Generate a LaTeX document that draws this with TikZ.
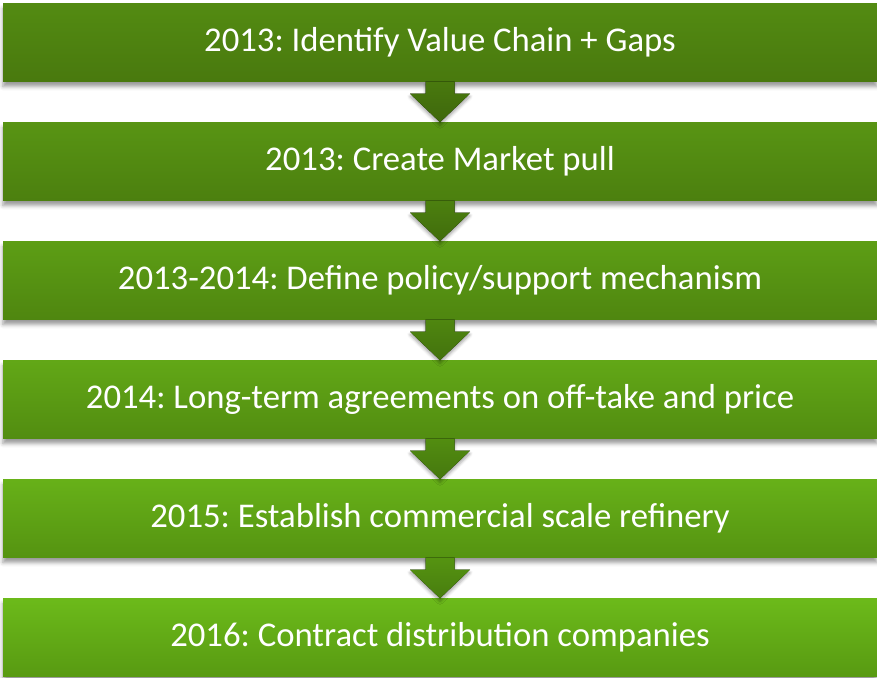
\documentclass[tikz,border=0pt]{standalone}
\usepackage{fontspec}
\setmainfont{Carlito}
\usetikzlibrary{calc,positioning,shadows.blur}
\frenchspacing

\definecolor{topDark}{RGB}{83,139,18}
\definecolor{topLight}{RGB}{108,186,26}
\definecolor{botDark}{RGB}{73,121,14}
\definecolor{botLight}{RGB}{88,154,18}

\tikzset{
    stage/.style={rectangle, inner sep=0pt, minimum width=874pt, minimum height=78pt,
        text=white, font=\fontsize{34.7}{40}\selectfont,
        blur shadow={shadow xshift=0pt, shadow yshift=-5pt, shadow blur radius=4pt, shadow opacity=40}},
    flowarrow/.style={blur shadow={shadow xshift=0pt, shadow yshift=-3pt, shadow blur radius=3pt, shadow opacity=35}}
}

\begin{document}
\begin{tikzpicture}[x=1pt, y=-1pt]

        \useasboundingbox (0,0) rectangle (877,677);
        \clip (0,0) rectangle (877,677);

        % Draw stage boxes, getting lighter further down.
        \foreach \i/\txt in {1/{2013: Identify Value Chain + Gaps},
                             2/{2013: Create Market pull},
                             3/{2013-2014: Define policy/support mechanism},
                             4/{2014: Long-term agreements on off-take and price},
                             5/{2015: Establish commercial scale refinery},
                             6/{2016: Contract distribution companies}}
        {
            \pgfmathtruncatemacro\p{100-20*(\i-1)}
            \node[stage, top color=topDark!\p!topLight, bottom color=botDark!\p!botLight]
                (s\i) at (440,{42.5+119*(\i-1)}) {\txt};
        }

        % Draw block arrows between stages.
        \foreach \i in {1,...,5}
        {
            \pgfmathtruncatemacro\j{\i+1}
            \pgfmathtruncatemacro\p{100-20*(\i-1)}
            \fill[flowarrow, top color=botDark!\p!botLight, bottom color=botDark!\p!botLight!85!black]
                ($(s\i.south)+(-14.5,0)$) -- ($(s\i.south)+(14.5,0)$)
                -- ($(s\i.south)+(14.5,12)$) -- ($(s\i.south)+(30,12)$)
                -- (s\j.north)
                -- ($(s\i.south)+(-30,12)$) -- ($(s\i.south)+(-14.5,12)$) -- cycle;
        }
    \end{tikzpicture}
\end{document}
